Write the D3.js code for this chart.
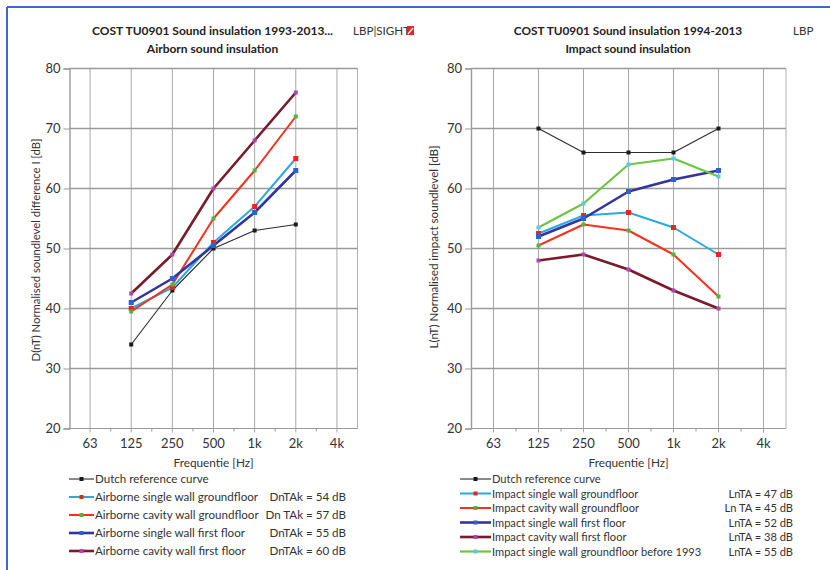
<!DOCTYPE html>
<html><head><meta charset="utf-8">
<script src="https://cdn.jsdelivr.net/npm/d3@7"></script>
<style>
body{margin:0;background:#fff;}
svg{display:block;font-family:Lato,"Open Sans",sans-serif;}
</style></head>
<body>
<svg id="c" width="830" height="570"></svg>
<script>
// ---------- data ----------
const categories = ["63","125","250","500","1k","2k","4k"];
const dataCategories = ["125","250","500","1k","2k"];
const yTicks = [20,30,40,50,60,70,80];

const airDutch        = [34, 43, 50, 53, 54];
const airSingleGround = [40, 43.5, 51, 57, 65];
const airCavityGround = [39.5, 44, 55, 63, 72];
const airSingleFirst  = [41, 45, 50.5, 56, 63];
const airCavityFirst  = [42.5, 49, 60, 68, 76];

const impDutch         = [70, 66, 66, 66, 70];
const impSingleGround  = [52.5, 55.5, 56, 53.5, 49];
const impCavityGround  = [50.5, 54, 53, 49, 42];
const impSingleFirst   = [52, 55, 59.5, 61.5, 63];
const impCavityFirst   = [48, 49, 46.5, 43, 40];
const impSinglePre1993 = [53.5, 57.5, 64, 65, 62];

const airNames  = ["Dutch reference curve","Airborne single wall groundfloor","Airborne cavity wall groundfloor","Airborne single wall first floor","Airborne cavity wall first floor"];
const airValues = ["","DnTAk = 54 dB","Dn TAk = 57 dB","DnTAk = 55 dB","DnTAk = 60 dB"];
const impNames  = ["Dutch reference curve","Impact single wall groundfloor","Impact cavity wall groundfloor","Impact single wall first floor","Impact cavity wall first floor","Impact single wall groundfloor before 1993"];
const impValues = ["","LnTA = 47 dB","Ln TA = 45 dB","LnTA = 52 dB","LnTA = 38 dB","LnTA = 55 dB"];

// ---------- styles ----------
const sDutch  = {line:"#2b2b2b", marker:"#1a1a1a", w:1.1, m:4};
const sLBlue  = {line:"#2aa8e2", marker:"#e8261c", w:2, m:5};
const sRed    = {line:"#f5321e", marker:"#4cb83c", w:2, m:4};
const sDBlue  = {line:"#34349e", marker:"#2f5fd6", w:2.6, m:5};
const sMaroon = {line:"#7a1a2a", marker:"#b046b4", w:2.6, m:4};
const sGreen  = {line:"#6cc644", marker:"#5cc8ea", w:2.2, m:4};

const svg = d3.select("#c");

// outer blue frame
svg.append("line").attr("x1",7).attr("x2",830).attr("y1",7).attr("y2",7).attr("stroke","#3b6cc2").attr("stroke-width",2);
svg.append("line").attr("x1",7).attr("x2",7).attr("y1",7).attr("y2",570).attr("stroke","#3b6cc2").attr("stroke-width",2);

function drawChart(o){
  const g = svg.append("g");
  const x = d3.scaleBand().domain(categories).range([o.x0,o.x1]).padding(0);
  const cx = c => x(c) + x.bandwidth()/2;
  const y = d3.scaleLinear().domain([20,80]).range([428.5,68.5]);

  // vertical gridlines at categories
  g.append("g").selectAll("line").data(categories).join("line")
    .attr("x1",cx).attr("x2",cx).attr("y1",y(80)).attr("y2",y(20)+4)
    .attr("stroke","#a8a8a8").attr("stroke-width",1);
  // borders
  g.append("line").attr("x1",o.x1).attr("x2",o.x1).attr("y1",y(80)).attr("y2",y(20))
    .attr("stroke","#b0b0b0").attr("stroke-width",1);
  // horizontal gridlines
  g.append("g").selectAll("line").data(yTicks).join("line")
    .attr("x1",o.x0).attr("x2",o.x1).attr("y1",d=>y(d)).attr("y2",d=>y(d))
    .attr("stroke","#9a9a9a").attr("stroke-width",d=>d===20?1.2:1.6);

  // y axis
  const ya = g.append("g").attr("transform",`translate(${o.x0},0)`)
    .call(d3.axisLeft(y).tickValues(yTicks).tickSize(6).tickPadding(3));
  ya.select(".domain").attr("stroke","#9a9a9a").attr("stroke-width",1.4);
  ya.selectAll(".tick line").attr("stroke","#9a9a9a");
  ya.selectAll("text").attr("font-size",13).attr("fill","#333").attr("font-family","Lato,'Open Sans',sans-serif");

  // x axis
  const xa = g.append("g").attr("transform",`translate(0,${y(20)})`)
    .call(d3.axisBottom(x).tickSize(0).tickPadding(10));
  xa.select(".domain").remove();
  xa.selectAll("text").attr("font-size",13).attr("fill","#333").attr("font-family","Lato,'Open Sans',sans-serif");
  // small ticks at band boundaries
  g.append("g").selectAll("line").data(categories.slice(1)).join("line")
    .attr("x1",d=>x(d)).attr("x2",d=>x(d)).attr("y1",y(20)).attr("y2",y(20)+3)
    .attr("stroke","#9a9a9a");

  // axis titles
  g.append("text").attr("x",(o.x0+o.x1)/2).attr("y",467).attr("text-anchor","middle")
    .attr("font-size",11.8).attr("fill","#333").text("Frequentie [Hz]");
  g.append("text").attr("transform",`translate(${o.ytx},${o.yty}) rotate(-90)`).attr("text-anchor","middle")
    .attr("font-size",o.ytSize).attr("fill","#333").text(o.yTitle);

  // titles
  g.append("text").attr("x",o.tx).attr("y",35).attr("text-anchor","middle")
    .attr("font-size",o.tSize).attr("font-weight","bold").attr("fill","#222").text(o.title1);
  g.append("text").attr("x",o.tx).attr("y",53).attr("text-anchor","middle")
    .attr("font-size",o.tSize).attr("font-weight","bold").attr("fill","#222").text(o.title2);
  g.append("text").attr("x",o.logoX).attr("y",35).attr("font-size",11.6).attr("fill","#333").text(o.logo);

  // series
  const line = d3.line().x((d,i)=>cx(dataCategories[i])).y(d=>y(d));
  o.series.forEach(s=>{
    g.append("path").datum(s.v).attr("d",line).attr("fill","none")
      .attr("stroke",s.st.line).attr("stroke-width",s.st.w).attr("stroke-linejoin","round");
  });
  o.series.forEach(s=>{
    g.append("g").selectAll("rect").data(s.v).join("rect")
      .attr("x",(d,i)=>cx(dataCategories[i])-s.st.m/2).attr("y",d=>y(d)-s.st.m/2)
      .attr("width",s.st.m).attr("height",s.st.m).attr("fill",s.st.marker);
  });

  // legend
  const lg = g.append("g");
  o.series.forEach((s,i)=>{
    const ly = o.ly0 + i*o.ldy;
    lg.append("line").attr("x1",o.lx0).attr("x2",o.lx1).attr("y1",ly).attr("y2",ly)
      .attr("stroke",s.st.line).attr("stroke-width",s.st.w);
    lg.append("rect").attr("x",(o.lx0+o.lx1)/2-2).attr("y",ly-2).attr("width",4).attr("height",4).attr("fill",s.st.marker);
    lg.append("text").attr("x",o.lx1+1).attr("y",ly+4.2).attr("font-size",o.lSize).attr("fill","#333").text(o.names[i]);
    if(o.values[i]) lg.append("text").attr("x",o.lvx).attr("y",ly+4.2).attr("text-anchor","end")
      .attr("font-size",o.lSize).attr("fill","#333").text(o.values[i]);
  });
}

drawChart({
  x0:69.5, x1:357.5, tx:212.5, ytx:40, yty:250, ytSize:11.3, tSize:12,
  title1:"COST TU0901 Sound insulation 1993-2013...", title2:"Airborn sound insulation",
  logo:"LBP|SIGHT", logoX:353,
  yTitle:"D(nT) Normalised soundlevel difference I [dB]",
  series:[{v:airDutch,st:sDutch},{v:airSingleGround,st:sLBlue},{v:airCavityGround,st:sRed},{v:airSingleFirst,st:sDBlue},{v:airCavityFirst,st:sMaroon}],
  names:airNames, values:airValues, lSize:11.6,
  lx0:69, lx1:94, lvx:346, ly0:479, ldy:18
});
// red logo mark
svg.append("rect").attr("x",407).attr("y",26).attr("width",7).attr("height",9).attr("fill","#e0262b");
svg.append("line").attr("x1",408).attr("y1",34).attr("x2",413).attr("y2",28).attr("stroke","#fff").attr("stroke-width",1.2);

drawChart({
  x0:471, x1:786, tx:628, ytx:438, yty:247, ytSize:11.6, tSize:11.8,
  title1:"COST TU0901 Sound insulation 1994-2013", title2:"Impact sound insulation",
  logo:"LBP", logoX:793,
  yTitle:"L(nT) Normalised impact soundlevel [dB]",
  series:[{v:impDutch,st:sDutch},{v:impSingleGround,st:sLBlue},{v:impCavityGround,st:sRed},{v:impSingleFirst,st:sDBlue},{v:impCavityFirst,st:sMaroon},{v:impSinglePre1993,st:sGreen}],
  names:impNames, values:impValues, lSize:11.1,
  lx0:460, lx1:491, lvx:793, ly0:479, ldy:14.5
});
</script>
</body></html>
